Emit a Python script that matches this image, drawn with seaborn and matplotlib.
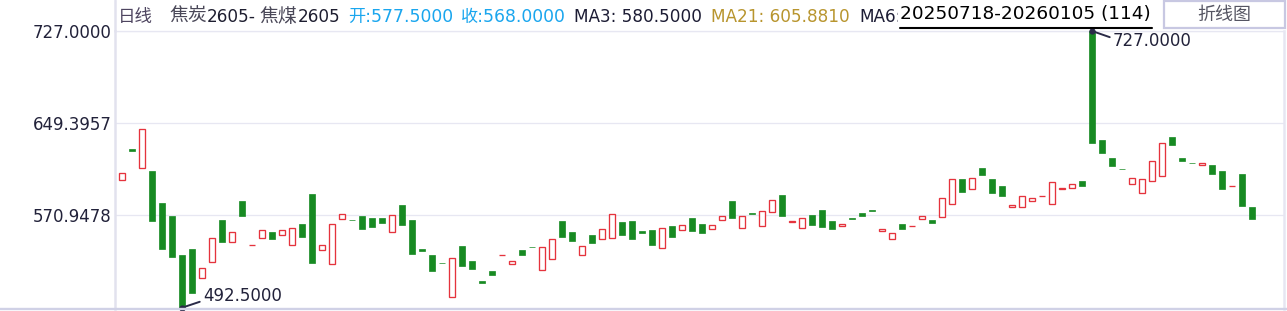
import matplotlib
matplotlib.use("Agg")
import matplotlib.pyplot as plt
from matplotlib.lines import Line2D
from matplotlib.patches import Rectangle
import seaborn as sns
import numpy as np
import pandas as pd

# ---------------- data ----------------
opens = [600.8, 627.3, 610.9, 608.7, 581.2, 570.4, 537.3, 542.1, 517.5, 531.1,
         567.0, 548.1, 582.6, 545.7, 551.5, 556.8, 554.0, 545.5, 563.6, 589.1,
         541.3, 529.9, 567.6, 567.1, 570.4, 568.7, 568.7, 556.6, 579.8, 567.0,
         542.1, 537.3, 530.3, 501.8, 544.9, 532.2, 515.2, 523.7, 536.9, 529.4,
         541.5, 543.9, 524.3, 533.6, 566.2, 556.8, 537.0, 554.3, 550.6, 551.5,
         565.3, 566.2, 557.7, 558.5, 543.0, 561.9, 558.3, 568.7, 563.6, 559.1,
         566.8, 583.2, 560.0, 573.0, 561.7, 573.6, 588.3, 564.9, 560.0, 571.3,
         575.5, 566.2, 561.7, 568.7, 573.0, 575.5, 557.4, 550.6, 563.6, 561.6,
         567.6, 567.0, 569.3, 580.4, 601.6, 593.1, 610.9, 601.6, 595.9, 577.8,
         577.8, 582.9, 587.3, 580.4, 592.8, 593.9, 600.2, 727.0, 635.0, 619.7,
         610.2, 597.4, 589.7, 599.6, 604.2, 637.5, 619.7, 615.3, 613.2, 613.8,
         608.7, 595.8, 606.1, 577.5]
closes = [606.7, 625.0, 644.1, 566.4, 542.6, 535.8, 492.5, 505.2, 526.0, 551.7,
          548.6, 556.6, 569.8, 545.8, 558.3, 551.1, 558.3, 560.2, 552.8, 530.7,
          545.8, 563.4, 571.9, 566.9, 559.6, 560.5, 564.7, 571.0, 562.2, 538.4,
          540.9, 523.9, 530.1, 534.5, 528.2, 525.6, 513.7, 520.5, 537.0, 532.2,
          537.5, 543.7, 543.8, 550.6, 552.8, 549.4, 544.9, 547.7, 559.1, 571.9,
          554.5, 551.1, 555.4, 546.0, 560.0, 552.8, 562.5, 557.1, 555.4, 562.5,
          570.2, 568.1, 570.2, 571.5, 574.4, 583.8, 569.8, 566.0, 568.5, 563.0,
          561.3, 558.8, 563.4, 567.3, 569.8, 574.1, 559.1, 555.7, 559.6, 561.7,
          570.2, 563.9, 585.5, 601.6, 590.2, 602.5, 605.3, 589.4, 586.8, 579.5,
          587.2, 585.1, 587.4, 599.1, 593.9, 597.4, 595.3, 631.9, 623.4, 612.3,
          610.0, 602.5, 601.6, 616.9, 632.2, 630.1, 616.6, 615.1, 615.2, 605.5,
          593.4, 595.9, 578.3, 568.0]
ytick_values = [727.0, 649.3957, 570.9478]

period_label = "日线"
symbol_parts = ["焦炭", "2605-", "焦煤", "2605"]
open_label = "开:577.5000"
close_label = "收:568.0000"
ma3_label = "MA3: 580.5000"
ma21_label = "MA21: 605.8810"
ma6_label = "MA6:"
range_label = "20250718-20260105 (114)"
button_label = "折线图"

# ---------------- style ----------------
sns.set_theme(style="white")
plt.rcParams['font.family'] = ['DejaVu Sans', 'Noto Sans CJK SC']

GREEN = '#178a22'
RED = '#e5333d'
GRID = '#e7e7f2'
TXT = '#22223a'

W, H = 1287, 311
fig = plt.figure(figsize=(W / 100, H / 100), dpi=100)
fig.patch.set_facecolor('white')
ax = fig.add_axes([115 / W, 2 / H, (1284 - 115) / W, 278 / H])

df = pd.DataFrame({'open': opens, 'close': closes})
df['x'] = np.arange(len(df))
up = df[df['close'] >= df['open']]
down = df[df['close'] < df['open']]

ax.bar(down['x'], down['open'] - down['close'], bottom=down['close'], width=0.62,
       color=GREEN, edgecolor=GREEN, linewidth=0.5, zorder=3)
ax.bar(up['x'], up['close'] - up['open'], bottom=up['open'], width=0.57,
       facecolor='white', edgecolor=RED, linewidth=0.95, zorder=3)

ax.set_xlim(-0.7, 116.2)
ax.set_ylim(491.4, 727.0)
ax.set_xticks([])
ax.set_yticks(ytick_values)
ax.set_yticklabels([f"{v:.4f}" for v in ytick_values], fontsize=12, color=TXT)
ax.tick_params(axis='y', length=0, pad=2.4)
ax.yaxis.grid(True, color=GRID, linewidth=0.9, zorder=0)
ax.set_axisbelow(True)
for side, sp in ax.spines.items():
    sp.set_visible(True)
ax.spines['left'].set_color('#e2e2ee'); ax.spines['left'].set_linewidth(1.8)
ax.spines['right'].set_color('#e6e6f2'); ax.spines['right'].set_linewidth(1.8)
ax.spines['top'].set_color(GRID); ax.spines['top'].set_linewidth(0.9)
ax.spines['bottom'].set_visible(False)

# extreme annotations
body_hi = df[['open', 'close']].max(axis=1)
body_lo = df[['open', 'close']].min(axis=1)
hi_idx, hi_val = int(body_hi.idxmax()), float(body_hi.max())
lo_idx, lo_val = int(body_lo.idxmin()), float(body_lo.min())
ARROW = '#2a2a48'
ax.annotate(f"{hi_val:.4f}", xy=(hi_idx, hi_val), xytext=(21, -10), textcoords='offset pixels',
            ha='left', va='center', fontsize=12, color=TXT, annotation_clip=False,
            arrowprops=dict(arrowstyle='-', color=ARROW, lw=1.4, shrinkA=0, shrinkB=0, relpos=(0, 0.65)))
ax.annotate(f"{lo_val:.4f}", xy=(lo_idx, lo_val), xytext=(21, 11.5), textcoords='offset pixels',
            ha='left', va='center', fontsize=12, color=TXT, annotation_clip=False,
            arrowprops=dict(arrowstyle='-', color=ARROW, lw=1.4, shrinkA=0, shrinkB=0, relpos=(0, 0.25)))
ax.plot([hi_idx, lo_idx], [hi_val, lo_val], 'o', ms=3.5, color=ARROW, clip_on=False, zorder=5)

# figure-level frame lines
fig.add_artist(Line2D([0, 1], [2 / H, 2 / H], transform=fig.transFigure, color='#d0d1e6', lw=1.7))
fig.add_artist(Line2D([115 / W, 115 / W], [280 / H, 1], transform=fig.transFigure, color='#e2e2ee', lw=1.8))

# header
def px(x):
    return x / W

base = 1 - 21.7 / H
fig.text(px(118), base, period_label, fontsize=12.6, color='#4e4560', va='baseline')
sym_x = [169, 207, 259, 298]
sym_fs = [13.6, 12.2, 13.6, 12.2]
sym_col = ['#4a4858', '#1e1e30', '#4a4858', '#1e1e30']
for part, xx, fs, cc in zip(symbol_parts, sym_x, sym_fs, sym_col):
    fig.text(px(xx), base, part, fontsize=fs, color=cc, va='baseline')
fig.text(px(348), base, open_label, fontsize=12.4, color='#1aa6ee', va='baseline')
fig.text(px(461), base, close_label, fontsize=12.4, color='#1aa6ee', va='baseline')
fig.text(px(574), base, ma3_label, fontsize=12.2, color='#1c1c34', va='baseline')
fig.text(px(711), base, ma21_label, fontsize=12.2, color='#b8952e', va='baseline')
fig.text(px(859), base, ma6_label, fontsize=12.2, color='#1c1c34', va='baseline')
fig.text(px(900), 1 - 19 / H, range_label, fontsize=13.3, color='black', va='baseline',
         bbox=dict(facecolor='white', edgecolor='none', pad=1.5))
fig.add_artist(Line2D([px(900), px(1152)], [1 - 28.3 / H, 1 - 28.3 / H], transform=fig.transFigure,
                      color='black', lw=1.5))
fig.add_artist(Rectangle((px(1164), 1 - 28.3 / H), (1285 - 1164) / W, 27.3 / H, transform=fig.transFigure,
                         facecolor='white', edgecolor='#c8c8e2', lw=1.6))
fig.text(px(1224.5), 1 - 15 / H, button_label, fontsize=13, color='#555562', ha='center', va='center')

fig.savefig('out.png', dpi=100, facecolor='white')
